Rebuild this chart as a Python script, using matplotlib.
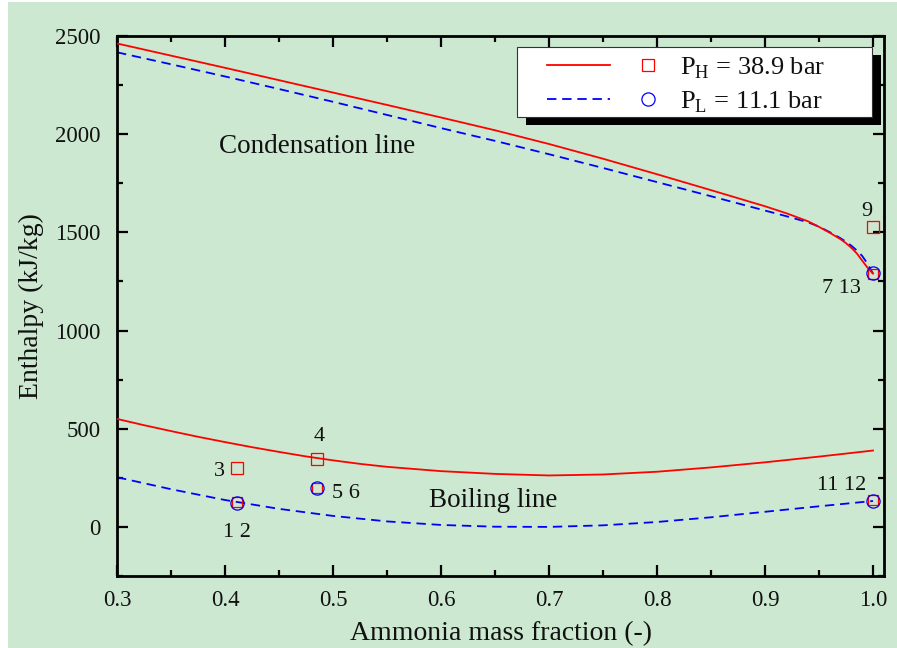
import matplotlib
matplotlib.use("Agg")
import matplotlib.pyplot as plt
from matplotlib.lines import Line2D
from matplotlib.patches import Rectangle
from matplotlib.legend_handler import HandlerBase

# ---------------- data ----------------
cond_x_H = [0.30, 0.35, 0.40, 0.45, 0.50, 0.55, 0.60, 0.65, 0.70, 0.75, 0.80,
            0.85, 0.90, 0.92, 0.94, 0.95, 0.96, 0.97, 0.975, 0.98, 0.985,
            0.99, 0.995, 1.0]
cond_y_H = [2462, 2400, 2338, 2275, 2212, 2149, 2085, 2020, 1950, 1875, 1796,
            1715, 1633, 1597, 1556, 1528, 1498, 1465, 1445, 1421, 1393,
            1356, 1320, 1290]

cond_x_L = [0.30, 0.35, 0.40, 0.45, 0.50, 0.55, 0.60, 0.65, 0.70, 0.75, 0.80,
            0.85, 0.90, 0.92, 0.94, 0.95, 0.96, 0.97, 0.975, 0.98, 0.985,
            0.99, 0.995, 1.0]
cond_y_L = [2417, 2356, 2294, 2230, 2165, 2098, 2031, 1966, 1898, 1828, 1756,
            1684, 1611, 1582, 1551, 1529, 1501, 1470, 1452, 1432, 1408,
            1380, 1340, 1290]

boil_x_H = [0.30, 0.325, 0.35, 0.375, 0.40, 0.425, 0.45, 0.475, 0.50, 0.525,
            0.55, 0.60, 0.65, 0.70, 0.75, 0.80, 0.85, 0.90, 0.95, 1.0]
boil_y_H = [550, 518, 488, 459, 432, 406, 382, 359, 339, 321,
            306, 284, 270, 262, 267, 281, 303, 329, 358, 389]

boil_x_L = [0.30, 0.35, 0.40, 0.45, 0.50, 0.55, 0.60, 0.65, 0.70, 0.75, 0.80,
            0.85, 0.90, 0.95, 1.0]
boil_y_L = [253, 192, 137, 92, 56, 28, 10, 1, 0, 8, 25,
            49, 77, 105, 132]

# state points
sq_x = [0.411, 0.4855, 1.0]          # points 3, 4, 9 (high pressure)
sq_y = [299, 345, 1526]
sq2_x = [0.411, 0.4855, 1.0, 1.0]    # points 2, 6, 12, 13 (under circles)
sq2_y = [126, 199, 136, 1290]
ci_x = [0.411, 0.4855, 1.0, 1.0]     # points 1, 5, 11, 7 (low pressure)
ci_y = [124, 197, 134, 1292]

point_labels = ["1 2", "3", "4", "5 6", "7 13", "9", "11 12"]
label_x = [0.411, 0.395, 0.487, 0.512, 0.971, 0.994, 0.971]
label_y = [-31, 280, 458, 168, 1212, 1605, 209]

x_ticks = [0.3, 0.4, 0.5, 0.6, 0.7, 0.8, 0.9, 1.0]
y_ticks = [0, 500, 1000, 1500, 2000, 2500]

legend_labels = [r"P$_{\mathregular{H}}$ = 38.9 bar",
                 r"P$_{\mathregular{L}}$ = 11.1 bar"]

# ---------------- style ----------------
plt.rcParams['font.family'] = ['Liberation Serif', 'DejaVu Serif']
plt.rcParams['mathtext.fontset'] = 'custom'
plt.rcParams['mathtext.rm'] = 'Liberation Serif'
GREEN = '#cce8d0'
RED = '#ff0000'
BLUE = '#0000ff'
TXT = '#111111'

W, H = 897, 648
fig = plt.figure(figsize=(W / 100, H / 100), dpi=100, facecolor='white')
fig.patches.append(Rectangle((8 / W, 0), 1 - 8 / W, 1 - 2 / H,
                             transform=fig.transFigure, facecolor=GREEN,
                             edgecolor='none', zorder=-10))

ax = fig.add_axes([117 / W, 1 - 576 / H, (884 - 117) / W, (576 - 36) / H])
ax.set_facecolor(GREEN)

lw = 1.3
dash = (0, (5.2, 3.2))
ax.plot(cond_x_H, cond_y_H, color=RED, lw=lw, zorder=3)
ax.plot(boil_x_H, boil_y_H, color=RED, lw=lw, zorder=3)
ax.plot(cond_x_L, cond_y_L, color=BLUE, lw=lw, ls=dash, zorder=2)
ax.plot(boil_x_L, boil_y_L, color=BLUE, lw=lw, ls=dash, zorder=2)

ax.plot(sq_x, sq_y, ls='none', marker='s', ms=8.5, mfc='none', mec=RED,
        mew=0.9, zorder=4, clip_on=False)
ax.plot(sq2_x, sq2_y, ls='none', marker='s', ms=6.5, mfc='none', mec=RED,
        mew=0.9, zorder=4, clip_on=False)
ax.plot(ci_x, ci_y, ls='none', marker='o', ms=9.5, mfc='none', mec=BLUE,
        mew=0.9, zorder=5, clip_on=False)

for t, x, y in zip(point_labels, label_x, label_y):
    ax.text(x, y, t, fontsize=16, ha='center', va='center', color=TXT)

ax.text(0.485, 1936, "Condensation line", fontsize=19.5, ha='center',
        va='center', color=TXT)
ax.text(0.648, 137, "Boiling line", fontsize=19.5, ha='center', va='center',
        color=TXT)

ax.set_xlim(0.3, 1.0102)
ax.set_ylim(-250, 2500)
ax.set_xticks(x_ticks)
ax.set_xticklabels([f"{v:.1f}" for v in x_ticks])
ax.set_yticks(y_ticks)
ax.set_xticks([0.35, 0.45, 0.55, 0.65, 0.75, 0.85, 0.95], minor=True)
ax.set_yticks([-250, 250, 750, 1250, 1750, 2250], minor=True)
ax.tick_params(which='both', direction='in', top=True, right=True,
               width=1.6, labelsize=16.5, colors='black', labelcolor=TXT)
ax.tick_params(which='major', length=8)
ax.tick_params(which='minor', length=4)
ax.tick_params(axis='x', pad=10)
ax.tick_params(axis='y', pad=12)
for s in ax.spines.values():
    s.set_linewidth(2.0)

ax.set_xlabel("Ammonia mass fraction (-)", fontsize=20, labelpad=7,
              color=TXT)
ax.set_ylabel("Enthalpy (kJ/kg)", fontsize=20, labelpad=8, color=TXT)


# ---------------- legend ----------------
class PairHandler(HandlerBase):
    def create_artists(self, legend, orig_handle, xdescent, ydescent, width,
                       height, fontsize, trans):
        ln, mk = orig_handle
        y = 0.5 * height - ydescent
        x0 = -xdescent
        a = Line2D([x0 + 0.154 * width, x0 + 0.594 * width], [y, y])
        a.update_from(ln)
        a.set_transform(trans)
        b = Line2D([x0 + 0.86 * width], [y])
        b.update_from(mk)
        b.set_transform(trans)
        return [a, b]


hL1 = Line2D([], [], color=RED, lw=lw)
hM1 = Line2D([], [], ls='none', marker='s', ms=8.5, mfc='none', mec=RED, mew=0.9)
hL2 = Line2D([], [], color=BLUE, lw=lw, ls=dash)
hM2 = Line2D([], [], ls='none', marker='o', ms=9.5, mfc='none', mec=BLUE, mew=0.9)

leg = ax.legend([(hL1, hM1), (hL2, hM2)], legend_labels,
                handler_map={tuple: PairHandler()},
                loc='center left', bbox_to_anchor=(520 / W, 1 - 85 / H),
                bbox_transform=fig.transFigure, frameon=False, fontsize=19,
                handlelength=5.4, handletextpad=0.45, labelspacing=0.32,
                borderpad=0.2, borderaxespad=0)
for t in leg.get_texts():
    t.set_color(TXT)
leg.set_zorder(7)

# legend frame with solid black shadow
bx0, by0, bx1, by1 = 517, 47, 872, 117
ax.add_patch(Rectangle(((bx0 + 9) / W, 1 - (by1 + 8) / H), (bx1 - bx0) / W,
                       (by1 - by0) / H, transform=fig.transFigure,
                       facecolor='black', edgecolor='none', zorder=6,
                       clip_on=False))
ax.add_patch(Rectangle((bx0 / W, 1 - by1 / H), (bx1 - bx0) / W,
                       (by1 - by0) / H, transform=fig.transFigure,
                       facecolor='white', edgecolor='#333333', lw=0.8,
                       zorder=6.5, clip_on=False))

fig.savefig("out.png", dpi=100, facecolor=fig.get_facecolor())
